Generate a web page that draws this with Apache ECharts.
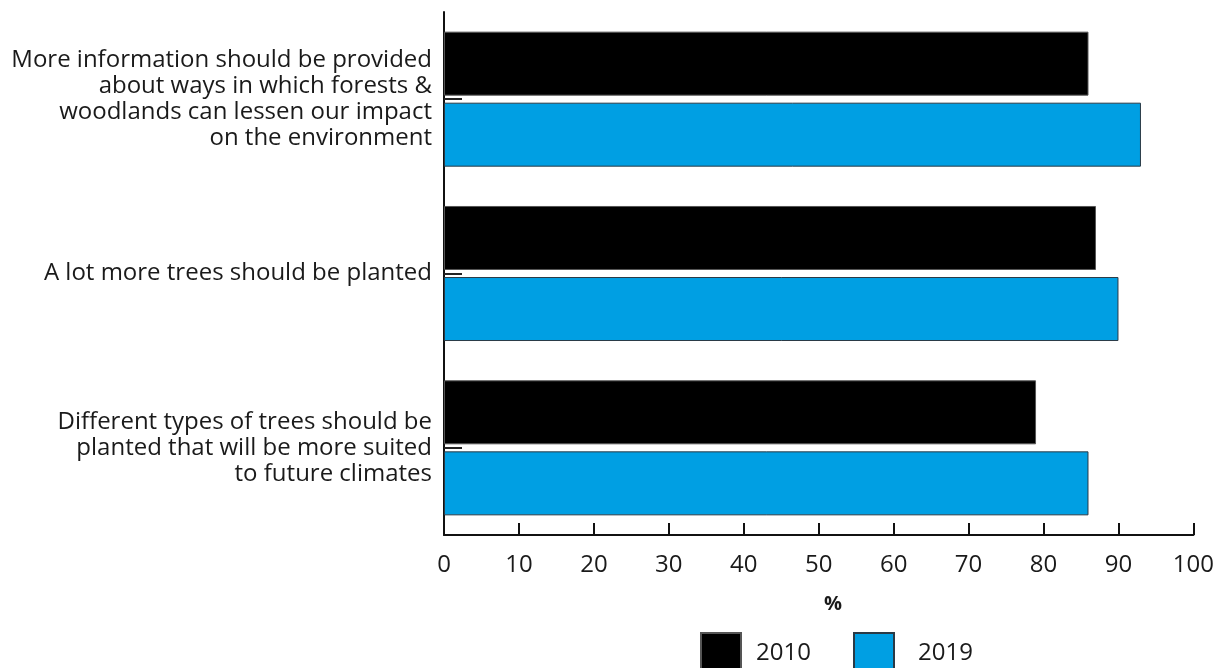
<!DOCTYPE html>
<html>
<head>
<meta charset="utf-8">
<script src="https://cdn.jsdelivr.net/npm/echarts@6/dist/echarts.min.js"></script>
<style>
  html, body { margin: 0; padding: 0; background: #fff; }
  #chart { width: 1217px; height: 668px; }
</style>
</head>
<body>
<div id="chart"></div>
<script>
// Statements on forests and climate, share agreeing (%)
const categories = [
  'More information should be provided\nabout ways in which forests &\nwoodlands can lessen our impact\non the environment',
  'A lot more trees should be planted',
  'Different types of trees should be\nplanted that will be more suited\nto future climates'
];
const values2010 = [86, 87, 79];
const values2019 = [93, 90, 86];
const seriesNames = ['2010', '2019'];
const xTicks = [0, 10, 20, 30, 40, 50, 60, 70, 80, 90, 100];

const font = '"Open Sans", "Noto Sans", sans-serif';
const textColor = '#1a1a1a';

const legendBase = {
  icon: 'rect',
  top: 627,
  itemWidth: 40,
  itemHeight: 40,
  selectedMode: false
};

const chart = echarts.init(document.getElementById('chart'), null, { renderer: 'canvas' });

chart.setOption({
  animation: false,
  textStyle: { fontFamily: font },
  grid: { left: 444, right: 22, top: 12, bottom: 133, containLabel: false },
  legend: [
    Object.assign({}, legendBase, {
      data: [seriesNames[0]],
      left: 695,
      textStyle: { fontFamily: font, fontSize: 24, color: textColor, padding: [0, 0, 0, 10] }
    }),
    Object.assign({}, legendBase, {
      data: [seriesNames[1]],
      left: 848,
      textStyle: { fontFamily: font, fontSize: 24, color: textColor, padding: [0, 0, 0, 19] }
    })
  ],
  xAxis: {
    type: 'value',
    min: xTicks[0],
    max: xTicks[xTicks.length - 1],
    interval: 10,
    axisLine: { show: true, lineStyle: { color: '#111', width: 2 } },
    axisTick: { show: true, inside: true, length: 12, lineStyle: { color: '#111', width: 2 } },
    axisLabel: { fontFamily: font, fontSize: 24, color: textColor, margin: 18 },
    splitLine: { show: false }
  },
  yAxis: {
    type: 'category',
    inverse: true,
    data: categories,
    axisLine: { show: true, lineStyle: { color: '#111', width: 2 } },
    axisTick: { show: true, inside: true, alignWithLabel: true, length: 18, lineStyle: { color: '#222', width: 2 } },
    axisLabel: { fontFamily: font, fontSize: 24, color: textColor, lineHeight: 26, margin: 12, align: 'right' }
  },
  graphic: [{
    type: 'text',
    left: 824,
    top: 594,
    style: { text: '%', fontFamily: font, fontSize: 20, fontWeight: 'bold', fill: textColor }
  }],
  series: [
    {
      name: seriesNames[0],
      type: 'bar',
      data: values2010,
      barWidth: 64,
      barGap: '11%',
      itemStyle: { color: '#000000', borderColor: '#555', borderWidth: 1 }
    },
    {
      name: seriesNames[1],
      type: 'bar',
      data: values2019,
      barWidth: 64,
      barGap: '11%',
      itemStyle: { color: '#009fe3', borderColor: '#2a3a46', borderWidth: 1 }
    }
  ]
});
</script>
</body>
</html>
